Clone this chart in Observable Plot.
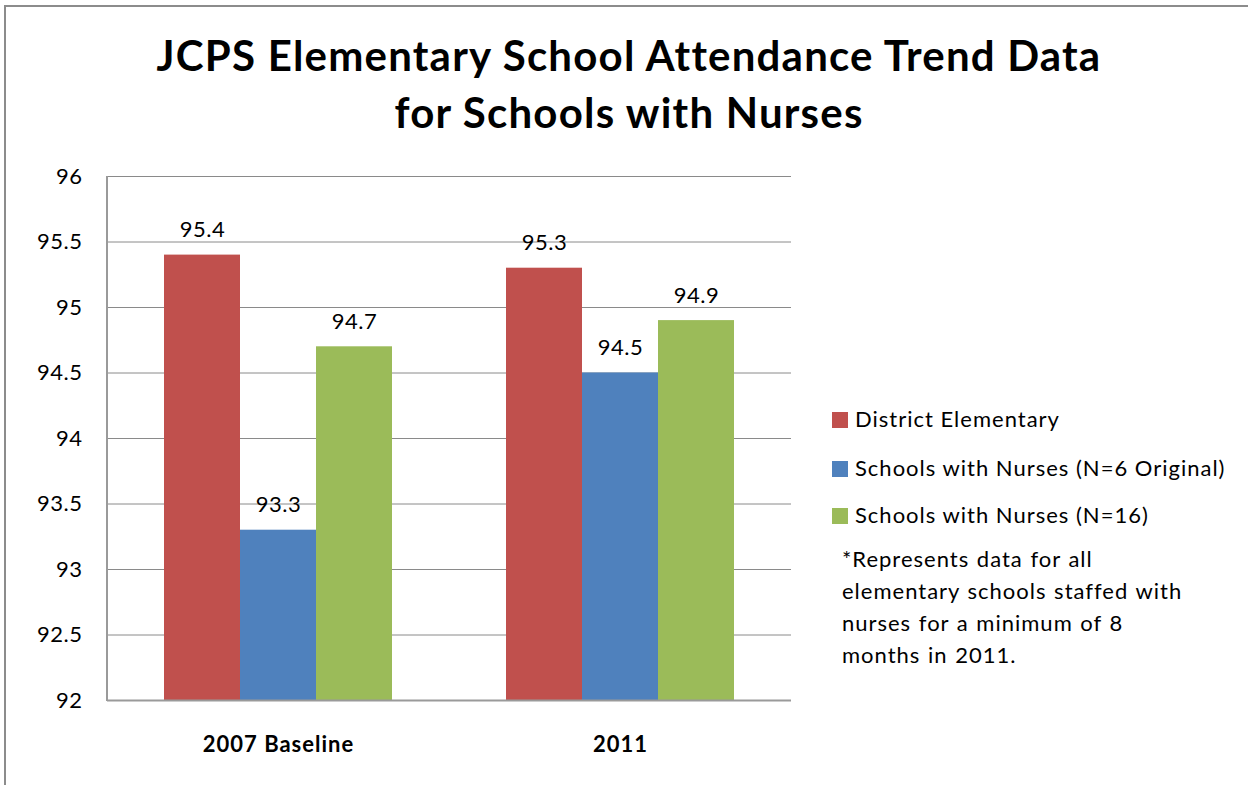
<!DOCTYPE html>
<html><head><meta charset="utf-8">
<script src="https://cdn.jsdelivr.net/npm/d3@7"></script>
<script src="https://cdn.jsdelivr.net/npm/@observablehq/plot@0.6"></script>
<style>
body{margin:0;background:#fff;font-family:Lato, "Open Sans", sans-serif;}
#wrap{position:relative;width:1248px;height:785px;overflow:hidden;background:#fff;}
#border{position:absolute;left:4px;top:5px;width:1300px;height:900px;border-left:2px solid #8c8c8c;border-top:2px solid #8c8c8c;}
#chart{position:absolute;left:0;top:0;}
#title{position:absolute;left:0;width:1258px;top:27px;text-align:center;font-weight:700;font-size:42px;line-height:57px;letter-spacing:1.2px;color:#000;white-space:nowrap;}
.leg{position:absolute;left:832px;font-size:22px;letter-spacing:1px;color:#000;white-space:nowrap;line-height:24px;}
.sw{display:inline-block;width:16px;height:16px;margin-right:7px;vertical-align:-1px;}
#note{position:absolute;left:842px;top:543px;font-size:22px;letter-spacing:1px;word-spacing:1px;line-height:32px;color:#000;white-space:nowrap;}
</style></head>
<body>
<div id="wrap">
  <div id="border"></div>
  <div id="chart"></div>
  <div id="title"></div>
  <div id="legend"></div>
  <div id="note"></div>
</div>
<script>
const titleLines = ["JCPS Elementary School Attendance Trend Data", "for Schools with Nurses"];
const categories = ["2007 Baseline", "2011"];
const seriesNames = ["District Elementary", "Schools with Nurses (N=6 Original)", "Schools with Nurses (N=16)"];
const districtElementary = [95.4, 95.3];
const nursesN6 = [93.3, 94.5];
const nursesN16 = [94.7, 94.9];
const seriesColors = ["#C0504D", "#4F81BD", "#9BBB59"];
const yTicks = [92, 92.5, 93, 93.5, 94, 94.5, 95, 95.5, 96];
const footnoteLines = ["*Represents data for all", "elementary schools staffed with", "nurses for a minimum of 8", "months in 2011."];

const seriesValues = [districtElementary, nursesN6, nursesN16];
const data = [];
categories.forEach((c, i) => seriesNames.forEach((s, j) => data.push({cat: c, series: s, value: seriesValues[j][i]})));

const M = {left: 107, right: 457, top: 176, bottom: 85};

const plot = Plot.plot({
  width: 1248, height: 785,
  marginLeft: M.left, marginRight: M.right, marginTop: M.top, marginBottom: M.bottom,
  style: {fontFamily: "Lato, 'Open Sans', sans-serif", fontSize: "22px", letterSpacing: "0.5px", color: "#000", background: "transparent", overflow: "visible"},
  fx: {domain: categories, paddingInner: 0, paddingOuter: 0, label: null, axis: null},
  x: {domain: seriesNames, paddingInner: 0, paddingOuter: 0.75, axis: null},
  y: {domain: [yTicks[0], yTicks[yTicks.length - 1]], label: null, axis: null},
  color: {domain: seriesNames, range: seriesColors},
  marks: [
    Plot.gridY(yTicks, {stroke: "#8a8a8a", strokeOpacity: 1, strokeWidth: 1}),
    Plot.barY(data, {fx: "cat", x: "series", y1: yTicks[0], y2: "value", fill: "series"}),
    Plot.ruleY([yTicks[0]], {stroke: "#9a9a9a", strokeWidth: 2}),
    Plot.text(data, {fx: "cat", x: "series", y: "value", text: d => d.value.toFixed(1), dy: -25, fontSize: 22, fill: "#000"}),
    Plot.axisY(yTicks, {anchor: "left", tickSize: 0, tickPadding: 25, tickFormat: d => String(d), fontSize: 22, fill: "#000", label: null}),
    Plot.axisFx({anchor: "bottom", tickSize: 0, tickPadding: 36, fontSize: 22, fontWeight: "bold", fill: "#000", label: null})
  ]
});

// left axis line of the plot area, drawn with the plot's own y scale
const ys = plot.scale("y");
d3.select(plot).append("line")
  .attr("x1", M.left).attr("x2", M.left)
  .attr("y1", ys.apply(yTicks[yTicks.length - 1])).attr("y2", ys.apply(yTicks[0]) + 1)
  .attr("stroke", "#9a9a9a").attr("stroke-width", 2);
d3.select(plot).selectAll("g[aria-label='fx-axis tick label'] text").attr("letter-spacing", "1px");

document.getElementById("chart").appendChild(plot);

const t = document.getElementById("title");
t.innerHTML = titleLines.map(l => `<div><span>${l}</span></div>`).join("");

const legend = document.getElementById("legend");
const rowTops = [407, 456, 503];
seriesNames.forEach((s, i) => {
  const d = document.createElement("div");
  d.className = "leg";
  d.style.top = rowTops[i] + "px";
  d.innerHTML = `<span class="sw" style="background:${seriesColors[i]}"></span>${s}`;
  legend.appendChild(d);
});
document.getElementById("note").innerHTML = footnoteLines.join("<br>");
</script>
</body></html>
